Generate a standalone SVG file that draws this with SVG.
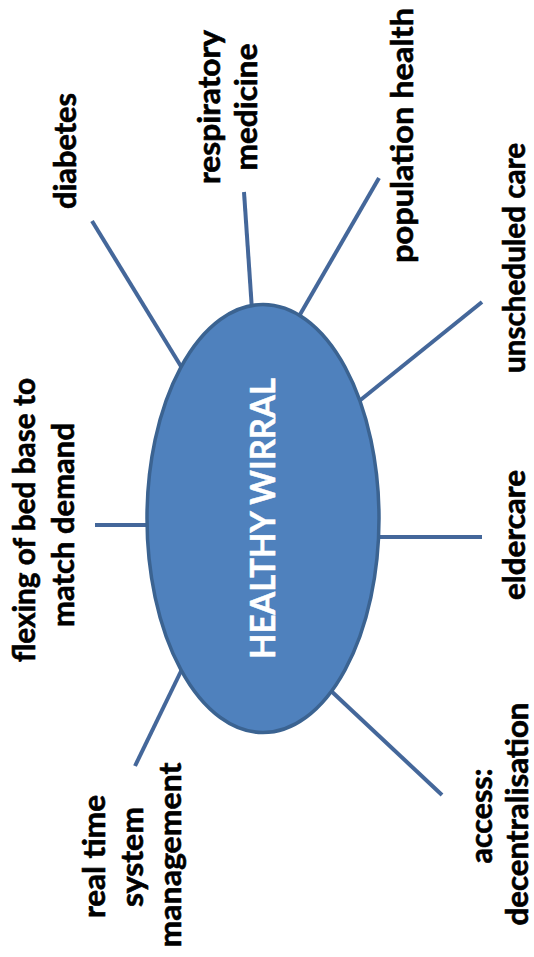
<svg xmlns="http://www.w3.org/2000/svg" width="534" height="957" viewBox="0 0 534 957">
<style>
.lbl{font-family:Lato,"Liberation Sans",sans-serif;font-weight:bold;font-size:30px;fill:#000;stroke:#000;stroke-width:0.6;text-anchor:middle}
.hub{font-family:Lato,"Liberation Sans",sans-serif;font-weight:bold;font-size:34px;fill:#fff;stroke:#fff;stroke-width:0.5;text-anchor:middle}
.con{stroke:#44679a;stroke-width:4;fill:none}
</style>
<rect width="534" height="957" fill="#fff"/>
<g id="connectors">
<line class="con" x1="92" y1="221" x2="182" y2="368"/>
<line class="con" x1="244" y1="192" x2="252" y2="310"/>
<line class="con" x1="379" y1="178" x2="298" y2="318"/>
<line class="con" x1="482" y1="302" x2="358" y2="402"/>
<line class="con" x1="482" y1="537" x2="374" y2="537"/>
<line class="con" x1="95" y1="525" x2="152" y2="525"/>
<line class="con" x1="135" y1="766" x2="184" y2="665"/>
<line class="con" x1="442" y1="795" x2="329" y2="689"/>
</g>
<g id="hub">
<ellipse cx="263" cy="518.5" rx="116" ry="214" fill="#4f81bd" stroke="#3b6391" stroke-width="3.5"/>
<text class="hub" transform="translate(275,518.5) rotate(-90)" textLength="281" lengthAdjust="spacingAndGlyphs">HEALTHY WIRRAL</text>
</g>
<g id="diabetes"><text class="lbl" transform="translate(76,151) rotate(-90)" textLength="116" lengthAdjust="spacingAndGlyphs">diabetes</text></g>
<g id="respiratory-medicine">
<text class="lbl" transform="translate(220,107) rotate(-90)" textLength="154" lengthAdjust="spacingAndGlyphs">respiratory</text>
<text class="lbl" transform="translate(257,107) rotate(-90)" textLength="127" lengthAdjust="spacingAndGlyphs">medicine</text>
</g>
<g id="population-health"><text class="lbl" transform="translate(413,135.5) rotate(-90)" textLength="255" lengthAdjust="spacingAndGlyphs">population health</text></g>
<g id="unscheduled-care"><text class="lbl" transform="translate(525,258) rotate(-90)" textLength="230" lengthAdjust="spacingAndGlyphs">unscheduled care</text></g>
<g id="eldercare"><text class="lbl" transform="translate(525,535) rotate(-90)" textLength="130" lengthAdjust="spacingAndGlyphs">eldercare</text></g>
<g id="flexing">
<text class="lbl" transform="translate(35,520) rotate(-90)" textLength="284" lengthAdjust="spacingAndGlyphs">flexing of bed base to</text>
<text class="lbl" transform="translate(74,525) rotate(-90)" textLength="204" lengthAdjust="spacingAndGlyphs">match demand</text>
</g>
<g id="real-time">
<text class="lbl" transform="translate(105,856.5) rotate(-90)" textLength="123" lengthAdjust="spacingAndGlyphs">real time</text>
<text class="lbl" transform="translate(143,857) rotate(-90)" textLength="100" lengthAdjust="spacingAndGlyphs">system</text>
<text class="lbl" transform="translate(181,855) rotate(-90)" textLength="185" lengthAdjust="spacingAndGlyphs">management</text>
</g>
<g id="access">
<text class="lbl" transform="translate(492,816) rotate(-90)" textLength="95" lengthAdjust="spacingAndGlyphs">access:</text>
<text class="lbl" transform="translate(528,814) rotate(-90)" textLength="223" lengthAdjust="spacingAndGlyphs">decentralisation</text>
</g>
</svg>
